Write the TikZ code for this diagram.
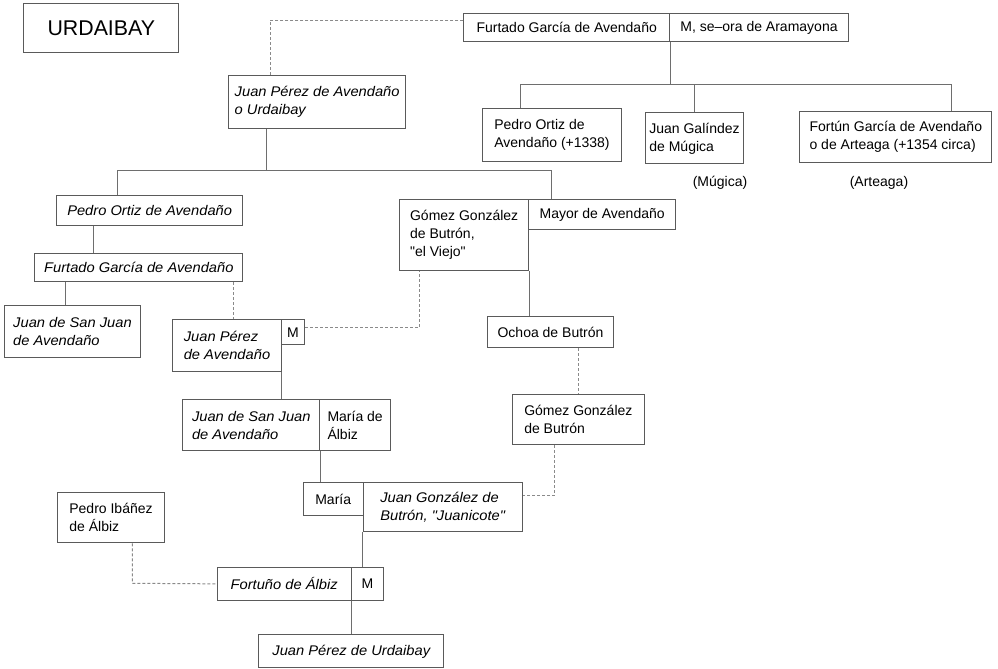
\documentclass[tikz,border=0pt]{standalone}
\usepackage{fontspec}
\setmainfont{Liberation Sans}[Ligatures=TeXOff, ItalicFeatures={FakeStretch=1.05}]
\definecolor{boxline}{HTML}{5A5A5A}
\definecolor{connline}{HTML}{6E6E6E}
\definecolor{dashline}{HTML}{8A8A8A}
\begin{document}
\begin{tikzpicture}[x=0.75pt,y=-0.75pt,
  every node/.style={font=\fontsize{10.5}{13.5}\selectfont, inner sep=0pt},
  pbox/.style={draw=boxline, line width=0.75pt, fill=white, align=left,
    anchor=north west, text=black},
  sz/.style 2 args={minimum width=#1*0.75pt, minimum height=#2*0.75pt},
  it/.style={font=\fontsize{10.5}{13.5}\selectfont\itshape},
  conn/.style={draw=connline, line width=0.75pt},
  link/.style={draw=dashline, line width=0.75pt, dash pattern=on 2.25pt off 1.5pt},
  house/.style={text=black}
]
\useasboundingbox (0,0) rectangle (998,668);

% title
\node[pbox, sz={155}{48.4}, align=center, font=\fontsize{16}{19}\selectfont] (urd) at (23.3,3.3) {URDAIBAY};

% first generation
\node[pbox, sz={205.6}{28}] (fga)  at (463.4,13.3) {Furtado García de Avendaño};
\node[pbox, sz={179}{28}]   (ara)  at (669,13.3) {M, se–ora de Aramayona};

\node[pbox, it, sz={176.7}{53.3}] (jpu) at (228.3,75) {Juan Pérez de Avendaño\\o Urdaibay};
\node[pbox, sz={139}{53}]  (poa)  at (482,108) {Pedro Ortiz de\\Avendaño (+1338)};
\node[pbox, sz={98}{51}]   (jgm)  at (645,112.3) {Juan Galíndez\\de Múgica};
\node[pbox, sz={192}{51}]  (fgaa) at (799.3,110.7) {Fortún García de Avendaño\\o de Arteaga (+1354 circa)};
\node[house] (mug) at (720,182.7) {(Múgica)};
\node[house] (art) at (879,182.7) {(Arteaga)};

% Avendaño line
\node[pbox, it, sz={186.3}{30}]  (poa2) at (56,195) {Pedro Ortiz de Avendaño};
\node[pbox, it, sz={208}{28.3}]  (fga2) at (34.3,252.7) {Furtado García de Avendaño};
\node[pbox, it, sz={136}{52.3}]  (jsj)  at (4,305) {Juan de San Juan\\de Avendaño};
\node[pbox, it, sz={108.4}{51.7}] (jpa) at (172.3,319.3) {Juan Pérez\\de Avendaño};
\node[pbox, sz={23.6}{25}, align=center] (m1) at (280.7,319.3) {M};
\node[pbox, it, sz={137}{50.7}]  (jsj2) at (182.3,399.3) {Juan de San Juan\\de Avendaño};
\node[pbox, sz={70.7}{50.7}]     (mal)  at (319.3,399.3) {María de\\Álbiz};

% Butrón line
\node[pbox, sz={129.3}{70.7}] (gg)  at (399,199.3) {Gómez González\\de Butrón,\\"el Viejo"};
\node[pbox, sz={146.7}{30}]   (may) at (528.3,199.3) {Mayor de Avendaño};
\node[pbox, sz={125.4}{31.3}, align=center] (och) at (487.3,316) {Ochoa de Butrón};
\node[pbox, sz={132.3}{50}]   (ggb) at (511.7,394) {Gómez González\\de Butrón};

% union and descendants
\node[pbox, sz={60}{32.7}, align=center] (mar) at (302.7,482.3) {María};
\node[pbox, it, sz={159}{48.7}] (jgb) at (362.7,482.3) {Juan González de\\Butrón, "Juanicote"};
\node[pbox, sz={107.6}{50}]   (pia) at (56.7,492.3) {Pedro Ibáñez\\de Álbiz};
\node[pbox, it, sz={134}{33.3}] (fal) at (216.7,566.7) {Fortuño de Álbiz};
\node[pbox, sz={32.6}{33.3}, align=center] (m2) at (350.7,566.7) {M};
\node[pbox, it, sz={185}{33}] (jpur) at (258.3,634.3) {Juan Pérez de Urdaibay};

% junction points
\coordinate (b1L) at (520,84);
\coordinate (b1R) at (951.7,84);
\coordinate (b2L) at (117.3,170);
\coordinate (b2M) at (266.7,170);
\coordinate (b2R) at (551.7,170);
\coordinate (x3) at (93.3,0);
\coordinate (x4) at (65.3,0);
\coordinate (x5) at (233.3,0);
\coordinate (c6) at (419.3,327.7);
\coordinate (c10) at (554.3,495.7);
\coordinate (c14) at (132.3,583.3);
\coordinate (c15) at (270.7,20);

% children of Furtado and Aramayona
\draw[conn] (fga.south east) -- (fga.south east |- b1L);
\draw[conn] (b1L) -- (b1R);
\draw[conn] (b1L) -- (b1L |- poa.north);
\draw[conn] (jgm.north |- b1L) -- (jgm.north);
\draw[conn] (b1R) -- (b1R |- fgaa.north);

% children of Juan Pérez o Urdaibay
\draw[conn] (b2M |- jpu.south) -- (b2M);
\draw[conn] (b2L) -- (b2R);
\draw[conn] (b2L) -- (b2L |- poa2.north);
\draw[conn] (b2R) -- (b2R |- may.north);

\draw[conn] (poa2.south -| x3) -- (fga2.north -| x3);
\draw[conn] (fga2.south -| x4) -- (jsj.north -| x4);
\draw[conn] (jpa.south east) -- (jpa.south east |- jsj2.north);
\draw[conn] (gg.south east) -- (gg.south east |- och.north);
\draw[conn] (jsj2.south east) -- (jsj2.south east |- mar.north);
\draw[conn] (jgb.south west) -- (jgb.south west |- m2.north);
\draw[conn] (fal.south east) -- (fal.south east |- jpur.north);

% dashed links
\draw[link] (c15 -| fga.west) -- (c15) -- (c15 |- jpu.north);
\draw[link] (fga2.south -| x5) -- (jpa.north -| x5);
\draw[link] (c6 -| m1.east) -- (c6) -- (c6 |- gg.south);
\draw[link] (ggb.north |- och.south) -- (ggb.north);
\draw[link] (c10 |- ggb.south) -- (c10) -- (c10 -| jgb.east);
\draw[link] (c14 |- pia.south) -- (c14) -- (fal.west);
\end{tikzpicture}
\end{document}
